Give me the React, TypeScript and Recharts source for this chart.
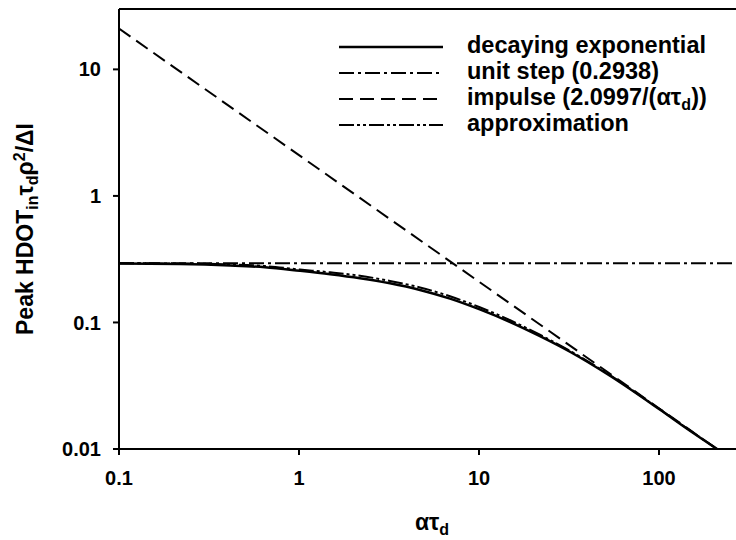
import React from "react";
import { LineChart, Line, XAxis, YAxis, ReferenceLine } from "recharts";

const FONT = '"Liberation Sans", Arial, Helvetica, sans-serif';

// values (log-log axes)
const curveX = [0.1, 0.218, 0.414, 0.647, 1.01, 1.49, 2.18, 3.2, 4.7, 6.9, 10.1, 14.9, 21.8, 32, 53.4, 101, 150, 210];
const decayY = [0.292, 0.2895, 0.282, 0.273, 0.256, 0.2405, 0.2236, 0.2038, 0.1806, 0.1542, 0.1267, 0.1007, 0.0779, 0.0587, 0.0379, 0.0205, 0.0138, 0.01];
const approxY = [0.2935, 0.2925, 0.288, 0.279, 0.262, 0.249, 0.234, 0.2128, 0.1891, 0.161, 0.1319, 0.1041, 0.08, 0.0597, 0.0383, 0.0206, 0.0139, 0.01];

const stepX = [0.1, 1000];
const stepY = [0.2938, 0.2938];

const impulseX = [0.1, 1, 10, 100, 210];
const impulseY = [20.997, 2.0997, 0.20997, 0.020997, 0.01];

const xTicks = [0.1, 1, 10, 100];
const yTicks = [0.01, 0.1, 1, 10];

const seriesNames = ["decaying exponential", "unit step (0.2938)", "impulse", "approximation"];
const dashes = [undefined, "15 4 3 4", "14 7", "15 3 3 3 3 3"];

const toPoints = (xs: number[], ys: number[]) => xs.map((x, i) => ({ x, y: ys[i] }));

const decayData = toPoints(curveX, decayY);
const approxData = toPoints(curveX, approxY);
const stepData = toPoints(stepX, stepY);
const impulseData = toPoints(impulseX, impulseY);

const tickStyle = { fill: "#000", fontSize: 20, fontWeight: "bold", fontFamily: FONT };
const axisLine = { stroke: "#000", strokeWidth: 2 };

const legendRows = [47, 73, 99, 125];

const Overlay = () => (
  <svg
    width={736}
    height={540}
    style={{ position: "absolute", left: 0, top: 0, pointerEvents: "none" }}
    fontFamily={FONT}
    fontWeight="bold"
  >
    {legendRows.map((y, i) => (
      <line
        key={i}
        x1={339}
        x2={443}
        y1={y}
        y2={y}
        stroke="#000"
        strokeWidth={i === 0 ? 2.5 : 2}
        strokeDasharray={dashes[i]}
      />
    ))}
    <text x={467} y={legendRows[0] + 6} fontSize={23.5}>{seriesNames[0]}</text>
    <text x={467} y={legendRows[1] + 6} fontSize={23.5}>{seriesNames[1]}</text>
    <text x={467} y={legendRows[2] + 6} fontSize={23.5}>
      {seriesNames[2]} (2.0997/(ατ
      <tspan dy={5} fontSize={16}>d</tspan>
      <tspan dy={-5}>))</tspan>
    </text>
    <text x={467} y={legendRows[3] + 6} fontSize={23.5}>{seriesNames[3]}</text>

    {/* axis titles */}
    <text x={432} y={530} fontSize={23} textAnchor="middle">
      ατ
      <tspan dy={5} fontSize={16}>d</tspan>
    </text>
    <text x={33} y={229} fontSize={23} textAnchor="middle" transform="rotate(-90, 33, 229)">
      Peak HDOT
      <tspan dy={5} fontSize={16}>in</tspan>
      <tspan dy={-5}>τ</tspan>
      <tspan dy={5} fontSize={16}>d</tspan>
      <tspan dy={-5}>ρ</tspan>
      <tspan dy={-8} fontSize={16}>2</tspan>
      <tspan dy={8}>/ΔI</tspan>
    </text>
  </svg>
);

export default function App() {
  return (
    <div
      style={{
        position: "fixed",
        left: 0,
        top: 0,
        width: 736,
        height: 540,
        overflow: "hidden",
        background: "#fff",
      }}
    >
      <LineChart width={848} height={540} margin={{ top: 9, right: 9, left: 0, bottom: 0 }}>
        <XAxis
          dataKey="x"
          type="number"
          scale="log"
          domain={[0.1, 1000]}
          ticks={xTicks}
          allowDataOverflow
          tickFormatter={(v: number) => String(v)}
          tick={tickStyle}
          tickSize={6}
          tickMargin={16}
          tickLine={axisLine}
          axisLine={axisLine}
          height={91}
        />
        <YAxis
          dataKey="y"
          type="number"
          scale="log"
          domain={[0.01, 30]}
          ticks={yTicks}
          allowDataOverflow
          tickFormatter={(v: number) => String(v)}
          tick={tickStyle}
          tickSize={6}
          tickMargin={12}
          tickLine={axisLine}
          axisLine={axisLine}
          width={119}
        />
        <ReferenceLine y={30} stroke="#000" strokeWidth={2} />
        <Line
          data={stepData}
          dataKey="y"
          type="linear"
          stroke="#000"
          strokeWidth={2}
          strokeDasharray={dashes[1]}
          dot={false}
          isAnimationActive={false}
        />
        <Line
          data={impulseData}
          dataKey="y"
          type="linear"
          stroke="#000"
          strokeWidth={2}
          strokeDasharray={dashes[2]}
          dot={false}
          isAnimationActive={false}
        />
        <Line
          data={approxData}
          dataKey="y"
          type="monotone"
          stroke="#000"
          strokeWidth={2}
          strokeDasharray={dashes[3]}
          dot={false}
          isAnimationActive={false}
        />
        <Line
          data={decayData}
          dataKey="y"
          type="monotone"
          stroke="#000"
          strokeWidth={2.5}
          dot={false}
          isAnimationActive={false}
        />
      </LineChart>
      <Overlay />
    </div>
  );
}
